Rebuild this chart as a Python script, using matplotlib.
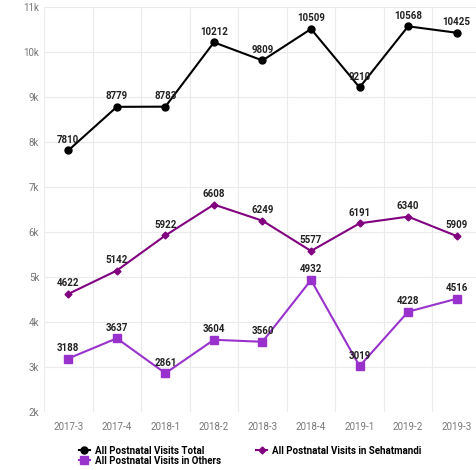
import matplotlib.pyplot as plt
from matplotlib.lines import Line2D

plt.rcParams['font.family'] = ['Roboto', 'DejaVu Sans']

# Quarterly data
quarters = ['2017-3', '2017-4', '2018-1', '2018-2', '2018-3', '2018-4', '2019-1', '2019-2', '2019-3']
total = [7810, 8779, 8783, 10212, 9809, 10509, 9210, 10568, 10425]
sehatmandi = [4622, 5142, 5922, 6608, 6249, 5577, 6191, 6340, 5909]
others = [3188, 3637, 2861, 3604, 3560, 4932, 3019, 4228, 4516]

fig = plt.figure(figsize=(4.76, 4.70), dpi=100)
ax = fig.add_axes([0.0924, 0.1234, 0.918, 0.862])

x = range(len(quarters))
series = [
    ('All Postnatal Visits Total', total, '#000000', 'o', 5),
    ('All Postnatal Visits in Sehatmandi', sehatmandi, '#800080', 'D', 3.5),
    ('All Postnatal Visits in Others', others, '#9932CC', 's', 5.5),
]
for name, vals, col, mk, ms in series:
    ax.plot(x, vals, color=col, marker=mk, markersize=ms, linewidth=1.5, label=name)
    for i, v in zip(x, vals):
        ax.annotate(str(v), (i, v), xytext=(0, 4), textcoords='offset points',
                    ha='center', va='bottom', fontsize=7, fontweight='bold', color='#222222')

ax.set_xlim(-0.5, len(quarters) - 0.5)
ax.set_ylim(2000, 11000)
ax.set_yticks(range(2000, 11001, 1000))
ax.set_yticklabels([f'{v // 1000}k' for v in range(2000, 11001, 1000)])
ax.set_xticks(list(x))
ax.set_xticklabels(quarters)

# grid lines between categories and at each thousand
ax.set_xticks([i + 0.5 for i in range(-1, len(quarters))], minor=True)
ax.grid(True, which='minor', axis='x', color='#ebebeb', linewidth=0.8)
ax.grid(True, which='major', axis='y', color='#ebebeb', linewidth=0.8)
ax.set_axisbelow(True)
ax.tick_params(axis='both', which='both', length=0, labelsize=7, colors='#777777')
ax.tick_params(axis='x', pad=7)
for s in ax.spines.values():
    s.set_visible(False)

# legend: Total and Sehatmandi on the first row, Others below
handles = {n: Line2D([0], [0], color=c, marker=m, markersize=ms, linewidth=1.5)
           for n, _, c, m, ms in series}
order = [series[0][0], series[2][0], series[1][0]]
fig.legend([handles[n] for n in order], order, loc='upper left',
           bbox_to_anchor=(0.165, 0.052), ncol=2, frameon=False,
           prop={'weight': 'bold', 'size': 7},
           handlelength=1.2, handletextpad=0.5, columnspacing=3.55, labelspacing=0.0,
           borderpad=0, borderaxespad=0)

fig.savefig('out.png', dpi=100)
